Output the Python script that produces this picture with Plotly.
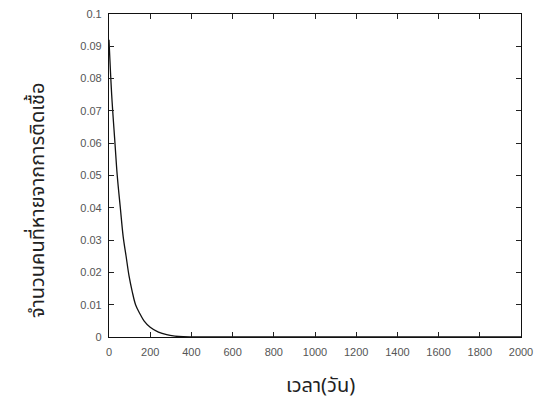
import plotly.graph_objects as go

# Recovered population over time (days)
days = [0, 13, 29, 40, 55, 69, 83, 97, 113, 129, 150, 170, 200, 240, 280, 320, 360, 400, 600, 1000, 1400, 2000]
recovered = [0.092, 0.075, 0.060, 0.050, 0.040, 0.031, 0.025, 0.019, 0.014, 0.010, 0.0072, 0.0050,
             0.0030, 0.0015, 0.0007, 0.0003, 0.0001, 0.00004, 0.0, 0.0, 0.0, 0.0]

x_ticks = [0, 200, 400, 600, 800, 1000, 1200, 1400, 1600, 1800, 2000]
y_ticks = [0, 0.01, 0.02, 0.03, 0.04, 0.05, 0.06, 0.07, 0.08, 0.09, 0.1]
y_tick_text = ["0", "0.01", "0.02", "0.03", "0.04", "0.05", "0.06", "0.07", "0.08", "0.09", "0.1"]

x_title = "เวลา(วัน)"
y_title = "จำนวนคนที่หายจากการติดเชื้อ"

fig = go.Figure()
fig.add_trace(go.Scatter(
    x=days, y=recovered, mode="lines",
    line=dict(color="#111111", width=1.3, shape="spline", smoothing=1.0),
    showlegend=False, hoverinfo="skip",
))

tick_font = dict(family="Liberation Sans, Arial, sans-serif", size=11, color="#555555")

axis_common = dict(
    showline=True, linecolor="#111111", linewidth=1.2, mirror="ticks",
    ticks="inside", ticklen=5, tickwidth=1, tickcolor="#222222",
    showgrid=False, zeroline=False, tickfont=tick_font, automargin=False,
    ticklabeloverflow="allow",
)

title_font = "Noto Sans Thai, Noto Sans, DejaVu Sans, sans-serif"

fig.update_layout(
    width=534, height=402,
    margin=dict(l=109, r=13, t=14, b=65),
    paper_bgcolor="white", plot_bgcolor="white",
    xaxis=dict(range=[0, 2000], tickvals=x_ticks, ticktext=[str(v) for v in x_ticks],
               ticklabelstandoff=5, **axis_common),
    yaxis=dict(range=[0, 0.1], tickvals=y_ticks, ticktext=y_tick_text,
               ticklabelstandoff=4, **axis_common),
    annotations=[
        dict(text=x_title, xref="paper", yref="paper", x=(320 - 109) / 412, y=-(386 - 337) / 323,
             xanchor="center", yanchor="middle", showarrow=False,
             font=dict(family=title_font, size=20, color="#222222")),
        dict(text=y_title, xref="paper", yref="paper", x=-(109 - 38) / 412, y=(337 - 201) / 323,
             xanchor="center", yanchor="middle", showarrow=False, textangle=-90,
             font=dict(family=title_font, size=20, color="#222222")),
    ],
)

fig.write_html("out.html")
